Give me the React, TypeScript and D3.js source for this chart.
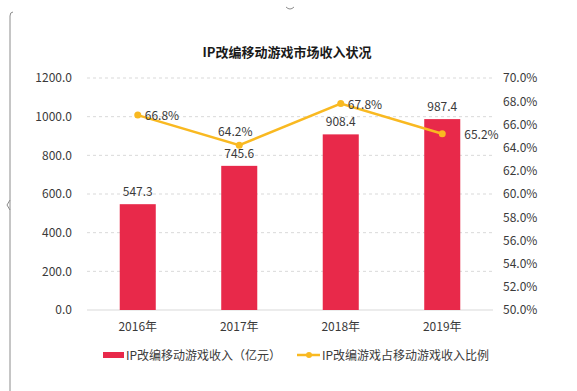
import React, { useEffect, useRef } from "react";
import * as d3 from "d3";

const years = ["2016年", "2017年", "2018年", "2019年"];
const revenue = [547.3, 745.6, 908.4, 987.4];
const share = [66.8, 64.2, 67.8, 65.2];
const leftTicks = [0, 200, 400, 600, 800, 1000, 1200];
const rightTicks = [50, 52, 54, 56, 58, 60, 62, 64, 66, 68, 70];
// where each percent label sits relative to its point
const shareLabelPos = ["right", "top", "right", "outside"];

const barName = "IP改编移动游戏收入（亿元）";
const lineName = "IP改编游戏占移动游戏收入比例";
const title = "IP改编移动游戏市场收入状况";

const App = () => {
  const ref = useRef<SVGSVGElement>(null);
  const width = 577;
  const height = 391;
  const margin = { top: 78, bottom: 81, left: 87, right: 84 };

  useEffect(() => {
    const svg = d3.select(ref.current);
    svg.selectAll("*").remove();
    const font = "'Noto Sans CJK SC', 'Noto Sans', sans-serif";
    const textColor = "#3a3a3a";

    const x = d3
      .scaleBand()
      .domain(years)
      .range([margin.left, width - margin.right])
      .paddingInner(0.645)
      .paddingOuter(0.3225);

    const yL = d3
      .scaleLinear()
      .domain([0, 1200])
      .range([height - margin.bottom, margin.top]);

    const yR = d3
      .scaleLinear()
      .domain([50, 70])
      .range([height - margin.bottom, margin.top]);

    // frame remnants of the screenshot
    svg
      .append("path")
      .attr("d", "M13,12 Q10,12 10,16 L10,391")
      .attr("fill", "none")
      .attr("stroke", "#8c8c8c")
      .attr("stroke-width", 1);
    svg
      .append("path")
      .attr("d", "M10,200 L7,205 L10,210")
      .attr("fill", "none")
      .attr("stroke", "#8c8c8c")
      .attr("stroke-width", 1);
    svg
      .append("path")
      .attr("d", "M286,7 Q290,11 294,7")
      .attr("fill", "none")
      .attr("stroke", "#8c8c8c")
      .attr("stroke-width", 1);

    svg
      .append("text")
      .attr("x", 287)
      .attr("y", 57)
      .attr("text-anchor", "middle")
      .attr("font-family", font)
      .attr("font-size", 13)
      .attr("font-weight", "bold")
      .attr("fill", "#1a1a1a")
      .text(title);

    // gridlines
    svg
      .append("g")
      .selectAll("line")
      .data(leftTicks)
      .enter()
      .append("line")
      .attr("x1", margin.left)
      .attr("x2", width - margin.right)
      .attr("y1", (d) => yL(d))
      .attr("y2", (d) => yL(d))
      .attr("stroke", "#d9d9d9")
      .attr("stroke-width", 1)
      .attr("stroke-dasharray", (d) => (d === 0 ? null : "3,3"));

    // left axis labels
    const axisL = svg
      .append("g")
      .attr("transform", `translate(${margin.left - 15},0)`)
      .call(
        d3
          .axisLeft(yL)
          .tickValues(leftTicks)
          .tickSize(0)
          .tickPadding(0)
          .tickFormat((d) => d3.format(".1f")(d as number))
      );
    axisL.select(".domain").remove();
    axisL
      .selectAll("text")
      .attr("font-family", font)
      .attr("font-size", 12)
      .attr("fill", textColor);

    const axisR = svg
      .append("g")
      .attr("transform", `translate(${width - margin.right + 10},0)`)
      .call(
        d3
          .axisRight(yR)
          .tickValues(rightTicks)
          .tickSize(0)
          .tickPadding(0)
          .tickFormat((d) => d3.format(".1f")(d as number) + "%")
      );
    axisR.select(".domain").remove();
    axisR
      .selectAll("text")
      .attr("font-family", font)
      .attr("font-size", 12)
      .attr("fill", textColor);

    const axisB = svg
      .append("g")
      .attr("transform", `translate(0,${height - margin.bottom + 12})`)
      .call(d3.axisBottom(x).tickSize(0).tickPadding(0));
    axisB.select(".domain").remove();
    axisB
      .selectAll("text")
      .attr("font-family", font)
      .attr("font-size", 12)
      .attr("fill", textColor);

    // bars
    svg
      .selectAll(".bar")
      .data(revenue)
      .enter()
      .append("rect")
      .attr("x", (d, i) => x(years[i])!)
      .attr("width", x.bandwidth())
      .attr("y", (d) => yL(d))
      .attr("height", (d) => yL(0) - yL(d))
      .attr("fill", "#E8294A");

    svg
      .selectAll(".barlabel")
      .data(revenue)
      .enter()
      .append("text")
      .attr("x", (d, i) => x(years[i])! + x.bandwidth() / 2)
      .attr("y", (d) => yL(d) - 8)
      .attr("text-anchor", "middle")
      .attr("font-family", font)
      .attr("font-size", 12)
      .attr("fill", textColor)
      .text((d) => d.toFixed(1));

    // line
    const cx = (i: number) => x(years[i])! + x.bandwidth() / 2;
    const line = d3
      .line<number>()
      .x((d, i) => cx(i))
      .y((d) => yR(d));

    svg
      .append("path")
      .datum(share)
      .attr("d", line)
      .attr("fill", "none")
      .attr("stroke", "#F9B921")
      .attr("stroke-width", 2.5);

    svg
      .selectAll(".dot")
      .data(share)
      .enter()
      .append("circle")
      .attr("cx", (d, i) => cx(i))
      .attr("cy", (d) => yR(d))
      .attr("r", 3.5)
      .attr("fill", "#F9B921");

    const labelX = (i: number) => {
      const p = shareLabelPos[i];
      if (p === "right") return cx(i) + 7;
      if (p === "outside") return cx(i) + x.bandwidth() / 2 + 4;
      return cx(i) - 4;
    };

    svg
      .selectAll(".linelabel")
      .data(share)
      .enter()
      .append("text")
      .attr("x", (d, i) => labelX(i))
      .attr("y", (d, i) => (shareLabelPos[i] === "top" ? yR(d) - 9 : yR(d) + 5))
      .attr("text-anchor", (d, i) => (shareLabelPos[i] === "top" ? "middle" : "start"))
      .attr("font-family", font)
      .attr("font-size", 12)
      .attr("fill", textColor)
      .text((d) => d.toFixed(1) + "%");

    // legend
    const legend = svg.append("g").attr("font-family", font).attr("font-size", 12).attr("fill", textColor);
    legend.append("rect").attr("x", 103).attr("y", 352).attr("width", 21).attr("height", 6).attr("fill", "#E8294A");
    legend.append("text").attr("x", 126).attr("y", 359.5).text(barName);
    legend
      .append("line")
      .attr("x1", 297)
      .attr("x2", 320)
      .attr("y1", 355)
      .attr("y2", 355)
      .attr("stroke", "#F9B921")
      .attr("stroke-width", 2.5);
    legend.append("circle").attr("cx", 309).attr("cy", 355).attr("r", 3).attr("fill", "#F9B921");
    legend.append("text").attr("x", 322).attr("y", 359.5).text(lineName);
  });

  return (
    <svg
      ref={ref}
      width={width}
      height={height}
      style={{ position: "absolute", left: 0, top: 0, background: "#fff" }}
    ></svg>
  );
};

export default App;
